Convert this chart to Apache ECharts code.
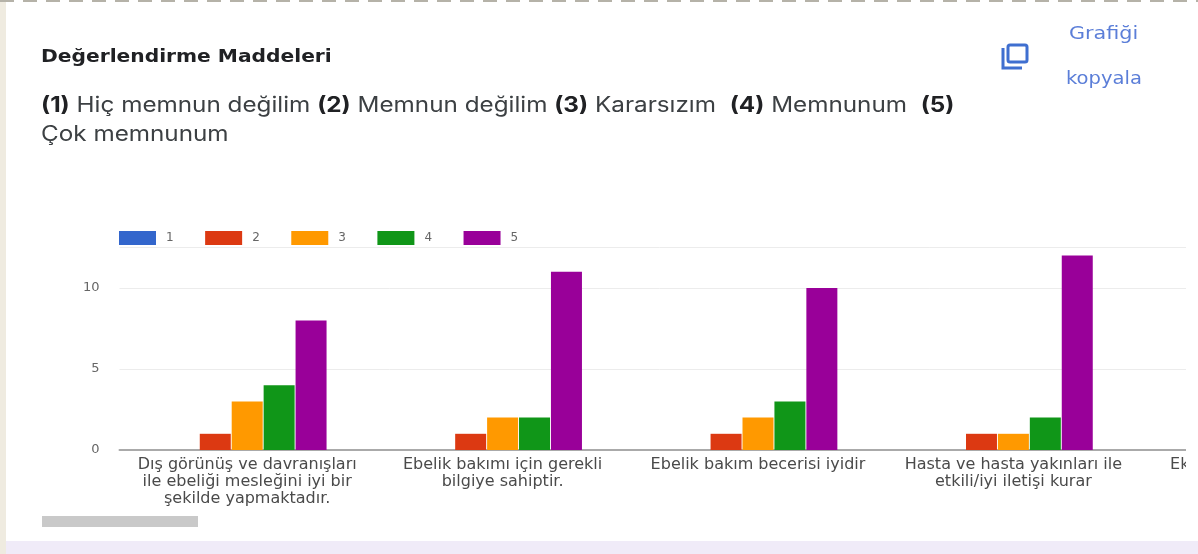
<!DOCTYPE html>
<html><head><meta charset="utf-8">
<style>html,body{margin:0;padding:0;background:#fff;overflow:hidden}#c{width:1198px;height:554px;filter:blur(0.5px)}</style>
<script src="https://cdn.jsdelivr.net/npm/echarts@6/dist/echarts.min.js"></script></head>
<body><div id="c"></div>
<script>
const heading = 'Değerlendirme Maddeleri';
const categories = [
  'Dış görünüş ve davranışları\nile ebeliği mesleğini iyi bir\nşekilde yapmaktadır.',
  'Ebelik bakımı için gerekli\nbilgiye sahiptir.',
  'Ebelik bakım becerisi iyidir',
  'Hasta ve hasta yakınları ile\netkili/iyi iletişi kurar',
  'Ek'
];
const seriesNames = ['1','2','3','4','5'];
const s1 = [0,0,0,0,null];
const s2 = [1,1,1,1,null];
const s3 = [3,2,2,1,null];
const s4 = [4,2,3,2,null];
const s5 = [8,11,10,12,null];
const colors = ['#3366cc','#dc3912','#ff9900','#109618','#990099'];
const seriesValues = [s1,s2,s3,s4,s5];
const bandWidth = 255.4;
const stretch = 1.155;
const chart = echarts.init(document.getElementById('c'));
const labelFont = 'DejaVu Sans';
chart.setOption({
  animation:false,
  backgroundColor:'#fff',
  color:colors,
  legend:{left:114,top:226,icon:'rect',itemWidth:37,itemHeight:14,itemGap:31.5,data:seriesNames,
    textStyle:{fontFamily:labelFont,fontSize:12,color:'#666',padding:[0,0,0,5]}},
  grid:{left:119.5,top:247.5,height:202.5,width:bandWidth*categories.length,outerBoundsMode:'none',containLabel:false},
  xAxis:{type:'category',data:categories.map((c,i)=>i===4?{value:c,textStyle:{padding:[0,178,0,0]}}:c),
    axisTick:{show:false},
    axisLine:{lineStyle:{color:'#aaa',width:2}},
    axisLabel:{interval:0,hideOverlap:false,fontFamily:labelFont,fontSize:16,lineHeight:17,color:'#4a4a4a',margin:6}},
  yAxis:{type:'value',min:0,max:12.5,interval:5,
    axisLine:{show:false},axisTick:{show:false},
    splitLine:{lineStyle:{color:'#ececec',width:1}},
    axisLabel:{showMaxLabel:false,fontFamily:labelFont,fontSize:13,color:'#666',margin:20}},
  series:seriesNames.map((n,i)=>({name:n,type:'bar',data:seriesValues[i],barWidth:31,barGap:'3%'})),
  graphic:[
    {type:'rect',z:100,shape:{x:1186,y:225,width:12,height:290},style:{fill:'#fff'}},
    {type:'rect',z:100,shape:{x:0,y:0,width:6,height:554},style:{fill:'#efebe0'}},
    {type:'line',z:101,shape:{x1:0,y1:1,x2:1198,y2:1},style:{stroke:'#b5b2a8',lineWidth:2,lineDash:[14,9]}},
    {type:'rect',z:100,shape:{x:6,y:541,width:1192,height:13},style:{fill:'#f0ebf8'}},
    {type:'rect',z:100,shape:{x:42,y:516,width:156,height:11},style:{fill:'#c9c9c9'}},
    {type:'text',z:100,x:41,y:48,scaleX:stretch,style:{text:heading,fontFamily:'DejaVu Sans',fontWeight:'bold',fontSize:17.5,fill:'#202124'}},
    {type:'text',z:100,x:41,y:91,scaleX:stretch,style:{fontFamily:'Inter',text:'{b|(1)} Hiç memnun değilim {b|(2)} Memnun değilim {b|(3)} Kararsızım  {b|(4)} Memnunum  {b|(5)}\nÇok memnunum',
      fontSize:21,lineHeight:29,fill:'#3c4043',
      rich:{b:{fontWeight:'bold',fontSize:21,fill:'#202124',fontFamily:'Inter'}}}},
    {type:'text',z:100,x:1069,y:26,scaleX:1.22,style:{text:'Grafiği',fontFamily:'DejaVu Sans',fontSize:17,fill:'#5b7ed8'}},
    {type:'text',z:100,x:1066,y:71,scaleX:1.15,style:{text:'kopyala',fontFamily:'DejaVu Sans',fontSize:17,fill:'#5b7ed8'}},
    {type:'rect',z:100,shape:{x:1008,y:45,width:19,height:17,r:2},style:{fill:'none',stroke:'#3f6fd0',lineWidth:3}},
    {type:'polyline',z:100,shape:{points:[[1003,48],[1003,68],[1022,68]]},style:{fill:'none',stroke:'#3f6fd0',lineWidth:3}}
  ]
});
</script></body></html>
